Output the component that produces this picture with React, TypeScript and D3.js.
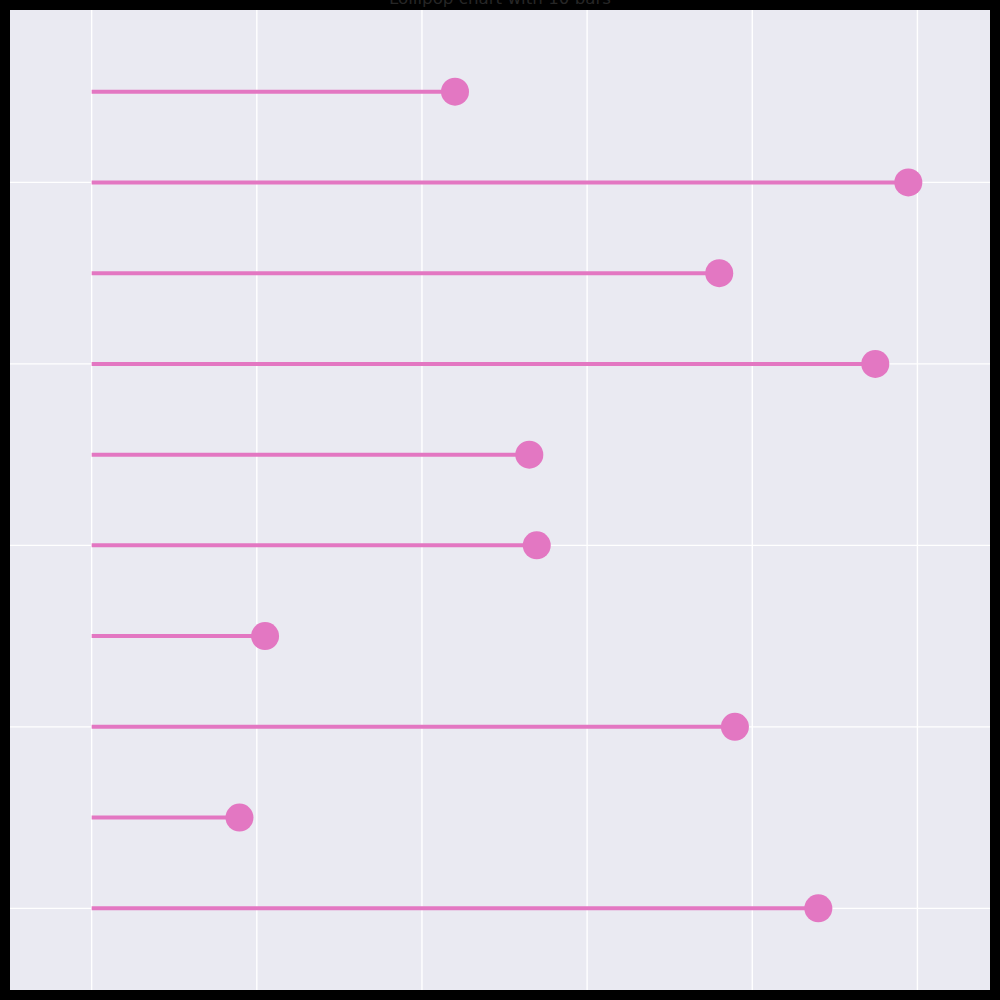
import { useEffect, useRef } from "react"
import * as d3 from "d3"

// bars listed bottom to top (index 0 is the lowest stem)
const barIndex = [0, 1, 2, 3, 4, 5, 6, 7, 8, 9]
const barValues = [8.8, 1.79, 7.79, 2.1, 5.39, 5.3, 9.49, 7.6, 9.89, 4.4]
const xTicks = [0, 2, 4, 6, 8, 10]
const yTicks = [0, 2, 4, 6, 8]
const chartTitle = "Lollipop chart with 10 bars"

export default function App() {
  const svgRef = useRef<SVGSVGElement>(null)

  useEffect(() => {
    if (!svgRef.current) return

    const WIDTH = 1000
    const HEIGHT = 1000
    const plot = { left: 10, right: 990, top: 10, bottom: 990 }
    const pink = "#e377c2"

    const svg = d3.select(svgRef.current)
    svg.selectAll("*").remove()

    // black figure background
    svg.append("rect")
      .attr("width", WIDTH)
      .attr("height", HEIGHT)
      .attr("fill", "#000000")

    // 10% margins like the source axes
    const maxValue = d3.max(barValues) || 1
    const x = d3.scaleLinear()
      .domain([-0.1 * maxValue, maxValue * 1.1])
      .range([plot.left, plot.right])

    const yPad = (d3.max(barIndex)! - d3.min(barIndex)!) * 0.1
    const y = d3.scaleLinear()
      .domain([d3.min(barIndex)! - yPad, d3.max(barIndex)! + yPad])
      .range([plot.bottom, plot.top])

    // axes face
    svg.append("rect")
      .attr("x", plot.left)
      .attr("y", plot.top)
      .attr("width", plot.right - plot.left)
      .attr("height", plot.bottom - plot.top)
      .attr("fill", "#eaeaf2")

    // grid
    const grid = svg.append("g").attr("stroke", "#ffffff").attr("stroke-width", 1.4)
    grid.selectAll("line.vx")
      .data(xTicks)
      .enter()
      .append("line")
      .attr("class", "vx")
      .attr("x1", d => x(d))
      .attr("x2", d => x(d))
      .attr("y1", plot.top)
      .attr("y2", plot.bottom)
    grid.selectAll("line.hy")
      .data(yTicks)
      .enter()
      .append("line")
      .attr("class", "hy")
      .attr("x1", plot.left)
      .attr("x2", plot.right)
      .attr("y1", d => y(d))
      .attr("y2", d => y(d))

    // stems
    svg.selectAll("line.stem")
      .data(barValues)
      .enter()
      .append("line")
      .attr("class", "stem")
      .attr("x1", x(0))
      .attr("x2", d => x(d))
      .attr("y1", (_d, i) => y(barIndex[i]))
      .attr("y2", (_d, i) => y(barIndex[i]))
      .attr("stroke", pink)
      .attr("stroke-width", 4)

    // heads
    svg.selectAll("circle.head")
      .data(barValues)
      .enter()
      .append("circle")
      .attr("class", "head")
      .attr("cx", d => x(d))
      .attr("cy", (_d, i) => y(barIndex[i]))
      .attr("r", 14)
      .attr("fill", pink)

    // title (sits mostly above the page edge)
    svg.append("text")
      .attr("x", (plot.left + plot.right) / 2)
      .attr("y", 3.5)
      .attr("text-anchor", "middle")
      .attr("fill", "#262626")
      .style("font-family", "DejaVu Sans")
      .style("font-size", "16.7px")
      .text(chartTitle)
  }, [])

  return (
    <svg
      ref={svgRef}
      width={1000}
      height={1000}
      style={{ position: "absolute", left: 0, top: 0, display: "block" }}
    />
  )
}
